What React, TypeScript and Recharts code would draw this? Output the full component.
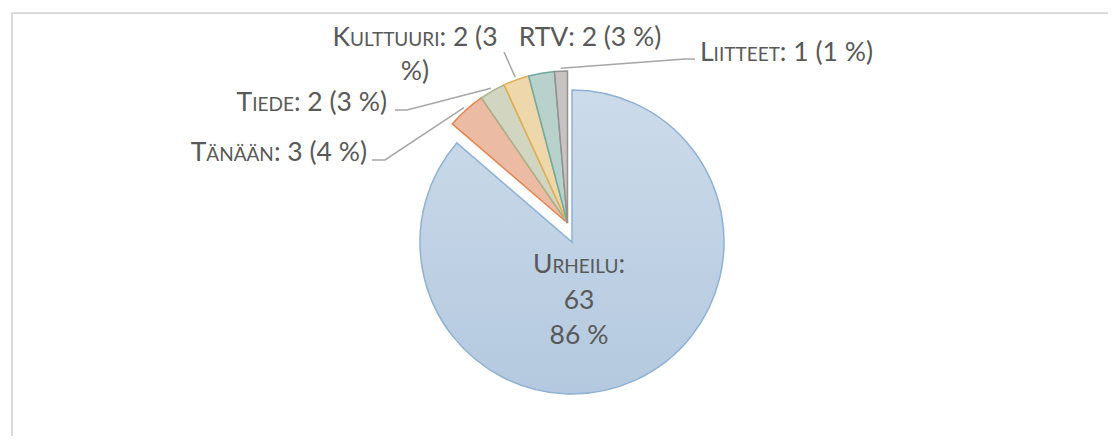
import { PieChart, Pie, Cell } from "recharts";

const categories = ["Urheilu", "Tänään", "Tiede", "Kulttuuri", "RTV", "Liitteet"];
const counts = [63, 3, 2, 2, 2, 1];

const total = counts.reduce((a, b) => a + b, 0);
const data = categories.map((name, i) => ({
  name,
  value: counts[i],
  pct: Math.round((counts[i] / total) * 100),
}));

const fills = ["url(#urheiluFill)", "#ecbba4", "#d2d5bf", "#edd7ab", "#b8d2cb", "#c7c3c3"];
const strokes = ["#8fb1d3", "#e3844f", "#a8b38c", "#e0b050", "#6ea9a2", "#959191"];

const W = 1100;
const H = 428;
const CX = 559.5;
const CY = 215;
const R = 152;
// Urheilu slice is pulled out of the pie
const EX = 4.5;
const EY = 19;

const TEXT = "#595959";
const LINE = "#a6a6a6";
const FONT = "Lato, 'Open Sans', sans-serif";
const FS = 26.5;
const RAD = Math.PI / 180;

type Lbl = {
  dx: number;
  dy: number;
  anchor: "start" | "middle" | "end";
  leader?: number[][];
  wrap?: boolean;
};

// placement of the outside labels, relative to pie centre
const labelPos: Record<number, Lbl> = {
  1: { dx: -200.5, dy: -62, anchor: "end", leader: [[5, -1], [18, -1]] },
  2: { dx: -180.5, dy: -112, anchor: "end", leader: [[8, -1], [20, -1]] },
  3: { dx: -152.5, dy: -177, anchor: "middle", wrap: true, leader: [[89, 6]] },
  4: { dx: 22.5, dy: -177, anchor: "middle" },
  5: { dx: 132.5, dy: -162, anchor: "start", leader: [[-5, -2], [-15, -2]] },
};

const arcPoint = (cx: number, cy: number, r: number, angle: number) => [
  cx + r * Math.cos(-angle * RAD),
  cy + r * Math.sin(-angle * RAD),
];

const renderSmallLabel = (props: any) => {
  const { cx, cy, midAngle, outerRadius, index } = props;
  const lp = labelPos[index];
  if (!lp) return null;
  const d = data[index];
  const x = cx + lp.dx;
  const y = cy + lp.dy;
  const [ax, ay] = arcPoint(cx, cy, outerRadius + 3, midAngle);
  const pts = lp.leader
    ? [...lp.leader.map(([a, b]) => `${x + a},${y + b}`), `${ax},${ay}`].join(" ")
    : null;

  return (
    <g key={`lbl-${index}`}>
      {pts && <polyline points={pts} fill="none" stroke={LINE} strokeWidth={1.5} />}
      <text x={x} y={y} textAnchor={lp.anchor} fill={TEXT} fontFamily={FONT} fontSize={FS}>
        <tspan style={{ fontVariant: "small-caps" }}>{d.name}</tspan>
        {lp.wrap ? (
          <>
            <tspan>{`: ${d.value} (${d.pct}`}</tspan>
            <tspan x={x} y={y + 34}>%)</tspan>
          </>
        ) : (
          <tspan>{`: ${d.value} (${d.pct} %)`}</tspan>
        )}
      </text>
    </g>
  );
};

const renderMainLabel = (props: any) => {
  const { cx, cy, index } = props;
  if (index !== 0) return null;
  const d = data[0];
  const x = cx + 7;
  return (
    <text key="lbl-main" x={x} y={cy + 31} textAnchor="middle" fill={TEXT} fontFamily={FONT} fontSize={FS}>
      <tspan style={{ fontVariant: "small-caps" }}>{d.name}:</tspan>
      <tspan x={x} y={cy + 67}>{d.value}</tspan>
      <tspan x={x} y={cy + 102}>{`${d.pct} %`}</tspan>
    </text>
  );
};

export default function App() {
  return (
    <div style={{ position: "relative", width: W, height: H }}>
      <div
        style={{
          position: "absolute",
          left: 3,
          top: 4,
          width: 1105,
          height: 432,
          borderLeft: "2px solid #dcdcdc",
          borderTop: "2px solid #dcdcdc",
          boxSizing: "border-box",
        }}
      />
      <PieChart
        width={W}
        height={H}
        margin={{ top: 0, right: 0, bottom: 0, left: 0 }}
        style={{ position: "absolute", left: 0, top: 0 }}
      >
        <defs>
          <linearGradient id="urheiluFill" x1="0" y1="0" x2="0" y2="1">
            <stop offset="0%" stopColor="#ccdbea" />
            <stop offset="100%" stopColor="#b4c9df" />
          </linearGradient>
        </defs>
        <Pie
          data={data}
          dataKey="value"
          nameKey="name"
          cx={CX + EX}
          cy={CY + EY}
          outerRadius={R}
          startAngle={90}
          endAngle={-270}
          isAnimationActive={false}
          labelLine={false}
          label={renderMainLabel}
        >
          {data.map((d, i) => (
            <Cell
              key={d.name}
              fill={i === 0 ? fills[i] : "none"}
              stroke={i === 0 ? strokes[i] : "none"}
              strokeWidth={1.5}
            />
          ))}
        </Pie>
        <Pie
          data={data}
          dataKey="value"
          nameKey="name"
          cx={CX}
          cy={CY}
          outerRadius={R}
          startAngle={90}
          endAngle={-270}
          isAnimationActive={false}
          labelLine={false}
          label={renderSmallLabel}
        >
          {data.map((d, i) => (
            <Cell
              key={d.name}
              fill={i === 0 ? "none" : fills[i]}
              stroke={i === 0 ? "none" : strokes[i]}
              strokeWidth={1.5}
            />
          ))}
        </Pie>
      </PieChart>
    </div>
  );
}
